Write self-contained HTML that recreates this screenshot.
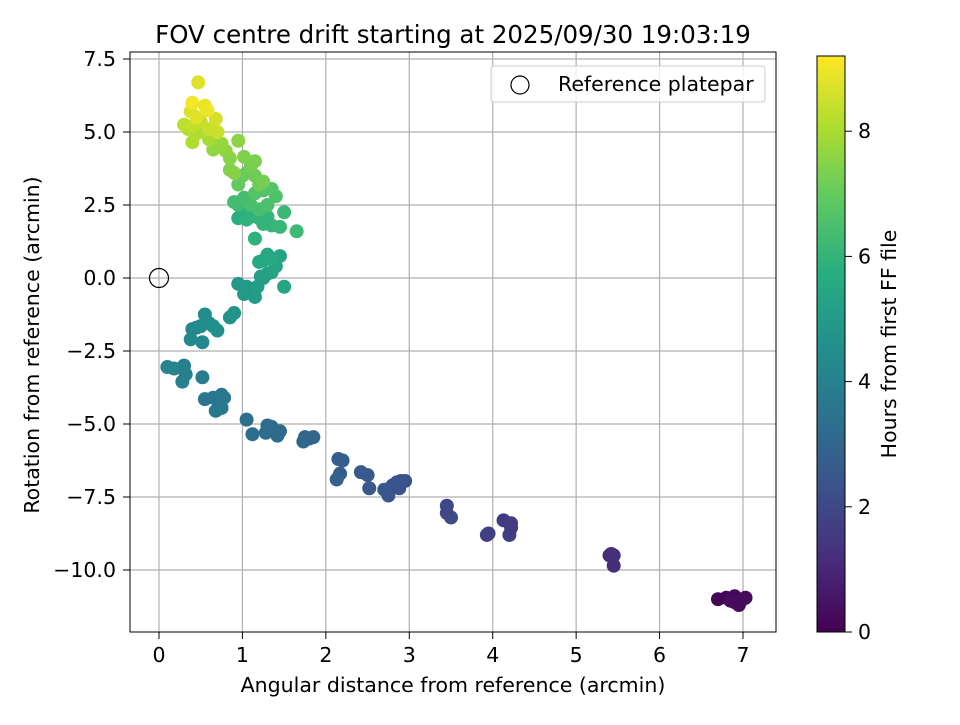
<!DOCTYPE html>
<html><head><meta charset="utf-8"><style>
body{margin:0;background:#fff;}
svg text{font-family:"DejaVu Sans","Liberation Sans",sans-serif;fill:#000;}
</style></head><body>
<svg id="chart" width="960" height="720" viewBox="0 0 960 720">
<defs><linearGradient id="vir" x1="0" y1="1" x2="0" y2="0">
<stop offset="0" stop-color="#440154"/><stop offset="0.125" stop-color="#472d7b"/><stop offset="0.25" stop-color="#3b528b"/><stop offset="0.375" stop-color="#2c728e"/><stop offset="0.5" stop-color="#21918c"/><stop offset="0.625" stop-color="#28ae80"/><stop offset="0.75" stop-color="#5ec962"/><stop offset="0.875" stop-color="#addc30"/><stop offset="1" stop-color="#fde725"/></linearGradient></defs>
<text x="453" y="43" font-size="24.5" text-anchor="middle">FOV centre drift starting at 2025/09/30 19:03:19</text>
<g id="grid"></g><g id="pts"></g>
<rect x="130" y="52" width="646" height="580" fill="none" stroke="#000" stroke-width="1"/>
<g id="ticks"></g>
<text x="453" y="692" font-size="20.5" text-anchor="middle">Angular distance from reference (arcmin)</text>
<text transform="translate(39,345) rotate(-90)" font-size="20.5" text-anchor="middle">Rotation from reference (arcmin)</text>
<g>
<rect x="491" y="66" width="274" height="36" rx="3" fill="#fff" fill-opacity="0.8" stroke="#ccc"/>
<circle cx="520" cy="85" r="9" fill="none" stroke="#000" stroke-width="1.2"/>
<text x="558" y="91" font-size="20.5">Reference platepar</text>
</g>
<rect x="817" y="56" width="28" height="576" fill="url(#vir)" stroke="#000" stroke-width="1"/>
<g id="cbticks"></g>
<text transform="translate(896,344) rotate(-90)" font-size="20.5" text-anchor="middle">Hours from first FF file</text>
</svg>
<script>
const xs=[6.7,6.8,6.9,6.95,7.0,6.9,7.03,6.85, 5.4,5.45,5.45,5.42, 4.13,4.22,4.2,3.95,3.93,4.22, 3.45,3.5,3.45,
2.9,2.95,2.85,2.8,2.88,2.75,2.7,2.5,2.52,2.42, 2.15,2.2,2.17,2.13,1.75,1.8,1.85,1.73,
1.3,1.35,1.4,1.42,1.28,1.12,1.05,1.45, 0.55,0.65,0.75,0.78,0.7,0.75,0.68,0.52, 0.3,0.32,0.28,0.18,0.1,
0.4,0.45,0.5,0.55,0.6,0.65,0.7,0.38,0.52,0.85,0.9,
0.95,1.05,1.02,1.15,1.18,1.22,1.25,1.3,1.35,1.4,1.45,1.5,1.25,1.3,1.2,1.35,
0.95,1.0,1.05,1.1,1.2,1.3,1.35,1.45,1.5,1.65,1.15,1.25,0.95,0.9,1.02,1.1,1.2,1.3,1.4,1.25,1.35,1.15,
0.95,1.0,1.05,1.15,1.2,1.25,1.1,1.15,1.02,0.85,0.9,0.85,0.95,0.8,0.65,0.75,
0.6,0.55,0.45,0.4,0.35,0.3,0.4,0.5,0.6,0.7,0.68,0.38,0.45,0.55,0.58,0.4,0.47];
const ys=[-11.0,-10.95,-10.9,-11.2,-11.0,-11.1,-10.95,-11.05, -9.5,-9.5,-9.85,-9.45, -8.3,-8.4,-8.8,-8.75,-8.8,-8.55, -7.8,-8.2,-8.05,
-6.95,-6.95,-7.0,-7.1,-7.2,-7.45,-7.25,-6.75,-7.2,-6.65, -6.2,-6.25,-6.7,-6.9,-5.45,-5.5,-5.45,-5.6,
-5.05,-5.1,-5.25,-5.4,-5.3,-5.35,-4.85,-5.25, -4.15,-4.1,-4.0,-4.1,-4.5,-4.45,-4.55,-3.4, -3.0,-3.3,-3.55,-3.1,-3.05,
-1.75,-1.7,-1.65,-1.25,-1.55,-1.65,-1.8,-2.1,-2.2,-1.35,-1.2,
-0.2,-0.3,-0.55,-0.65,-0.3,0.05,0.0,0.15,0.2,0.4,0.75,-0.3,0.6,0.8,0.55,0.65,
2.05,2.2,2.0,2.1,2.05,2.1,1.8,1.75,2.25,1.6,1.35,1.85,2.5,2.6,2.75,2.5,2.35,2.5,2.8,3.0,3.05,2.9,
3.2,3.5,3.6,3.5,3.2,3.3,3.85,4.0,4.15,3.7,3.6,4.1,4.7,4.35,4.4,4.6,
4.75,5.0,4.95,4.65,5.1,5.25,5.2,5.35,5.1,5.0,5.45,5.7,5.5,5.9,5.75,6.0,6.7];
const ts=[0.1,0.12,0.15,0.2,0.22,0.25,0.27,0.3, 1.1,1.15,1.2,1.25, 1.6,1.65,1.7,1.75,1.78,1.62, 2.0,2.05,2.02,
2.3,2.3,2.35,2.4,2.42,2.45,2.5,2.55,2.6,2.65, 2.75,2.78,2.8,2.85,3.0,3.02,3.0,3.05,
3.2,3.22,3.25,3.28,3.3,3.35,3.4,3.25, 3.6,3.62,3.65,3.68,3.7,3.72,3.75,3.85, 3.95,4.0,4.05,4.1,4.15,
4.3,4.35,4.4,4.45,4.5,4.55,4.6,4.3,4.35,4.7,4.75,
4.9,4.95,5.0,5.05,5.1,5.15,5.2,5.25,5.3,5.35,5.4,5.45,5.5,5.55,5.6,5.65,
5.8,5.85,5.9,5.95,6.0,6.05,6.1,6.15,6.2,6.25,5.9,6.0,6.3,6.35,6.4,6.45,6.5,6.55,6.6,6.65,6.7,6.75,
7.0,7.05,7.1,7.15,7.2,7.25,7.3,7.35,7.4,7.45,7.5,7.55,7.6,7.65,7.7,7.75,
8.0,8.05,8.1,8.15,8.2,8.3,8.35,8.4,8.45,8.5,8.6,8.7,8.8,8.9,9.0,9.05,8.75];
const xTicks=[0,1,2,3,4,5,6,7];
const yTicks=[7.5,5.0,2.5,0.0,-2.5,-5.0,-7.5,-10.0];
const cbTicks=[0,2,4,6,8];
const NS="http://www.w3.org/2000/svg";
const X=v=>159+v*83.43, Y=v=>570-(v+10)*29.2, CB=v=>632-v*62.6;
const vir=[[68,1,84],[71,44,122],[59,81,139],[44,113,142],[33,144,140],[39,173,129],[92,200,99],[170,220,50],[253,231,37]];
function col(t){let f=Math.max(0,Math.min(1,t/9.2))*8,i=Math.min(7,Math.floor(f)),r=f-i;const a=vir[i],b=vir[i+1];return `rgb(${a.map((c,k)=>Math.round(c+(b[k]-c)*r)).join(',')})`;}
function mk(tag,at,parent){const e=document.createElementNS(NS,tag);for(const k in at)e.setAttribute(k,at[k]);document.getElementById(parent).appendChild(e);return e;}
xTicks.forEach(v=>{const l=mk('line',{x1:X(v),x2:X(v),y1:52,y2:632,stroke:'#b0b0b0','stroke-width':1.2},'grid');


mk('line',{x1:X(v),x2:X(v),y1:632,y2:639,stroke:'#000'},'ticks');
const t=mk('text',{x:X(v),y:662,'font-size':20.5,'text-anchor':'middle'},'ticks');t.textContent=v;

});
yTicks.forEach(v=>{const l=mk('line',{x1:130,x2:776,y1:Y(v),y2:Y(v),stroke:'#b0b0b0','stroke-width':1.2},'grid');


mk('line',{x1:123,x2:130,y1:Y(v),y2:Y(v),stroke:'#000'},'ticks');
const t=mk('text',{x:116,y:Y(v)+7,'font-size':20.5,'text-anchor':'end'},'ticks');t.textContent=v.toFixed(1).replace('-','\u2212');

});
cbTicks.forEach(v=>{mk('line',{x1:845,x2:852,y1:CB(v),y2:CB(v),stroke:'#000'},'cbticks');
const t=mk('text',{x:858,y:CB(v)+7,'font-size':20.5},'cbticks');t.textContent=v;

});
xs.forEach((x,i)=>{const c=mk('circle',{cx:X(x),cy:Y(ys[i]),r:7,fill:col(ts[i])},'pts');

});
const ref=mk('circle',{cx:X(0),cy:Y(0),r:9.5,fill:'none',stroke:'#000','stroke-width':1.2},'pts');


</script>
</body></html>
